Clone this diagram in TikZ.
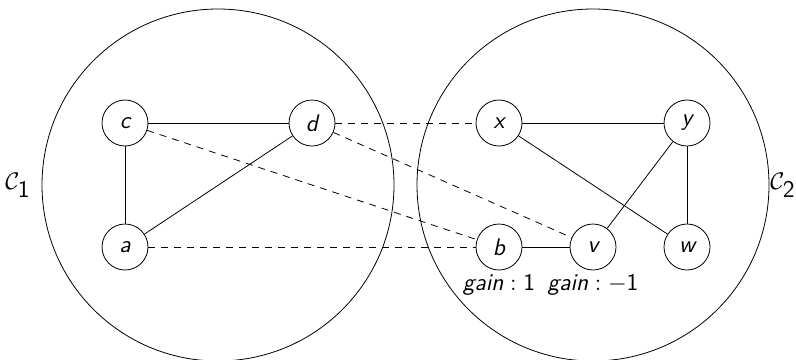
\documentclass[tikz,border=0pt]{standalone}
\newcommand\sv[1]{\textsf{\textit{#1}}}
\newcommand\bigfs{\fontsize{12}{14}\selectfont}
\begin{document}
\begin{tikzpicture}[x=0.5pt,y=-0.5pt,
  every node/.style={font=\bigfs},
  vtx/.style={draw,circle,minimum size=23pt,inner sep=0pt,font=\bigfs\sffamily\itshape},
  cluster/.style={draw,circle,minimum size=176pt,inner sep=0pt},
  sol/.style={thin},
  dsh/.style={thin,dash pattern=on 3.5pt off 3pt}]
\useasboundingbox (0,0) rectangle (796,359);
\node[cluster] (C1) at (218,185) {};
\node[cluster] (C2) at (593,185) {};
\node (L1) at (18,185) {$\mathcal{C}_{\textsf{1}}$};
\node (L2) at (783,185) {$\mathcal{C}_{\textsf{2}}$};
\node[vtx] (c) at (125,123) {c};
\node[vtx] (d) at (312,123) {d};
\node[vtx] (a) at (125,247) {a};
\node[vtx] (x) at (499,123) {x};
\node[vtx] (y) at (687,123) {y};
\node[vtx] (b) at (499,247) {b};
\node[vtx] (v) at (593,247) {v};
\node[vtx] (w) at (687,247) {w};
\node (gb) at (499,285) {$\sv{gain}:\textsf{1}$};
\node (gv) at (593,285) {$\sv{gain}:-\textsf{1}$};
\draw[sol] (c) -- (d);
\draw[sol] (c) -- (a);
\draw[sol] (a) -- (d);
\draw[sol] (x) -- (y);
\draw[sol] (x) -- (w);
\draw[sol] (y) -- (v);
\draw[sol] (y) -- (w);
\draw[sol] (b) -- (v);
\draw[dsh] (d) -- (x);
\draw[dsh] (c) -- (b);
\draw[dsh] (d) -- (v);
\draw[dsh] (a) -- (b);
\end{tikzpicture}
\end{document}
